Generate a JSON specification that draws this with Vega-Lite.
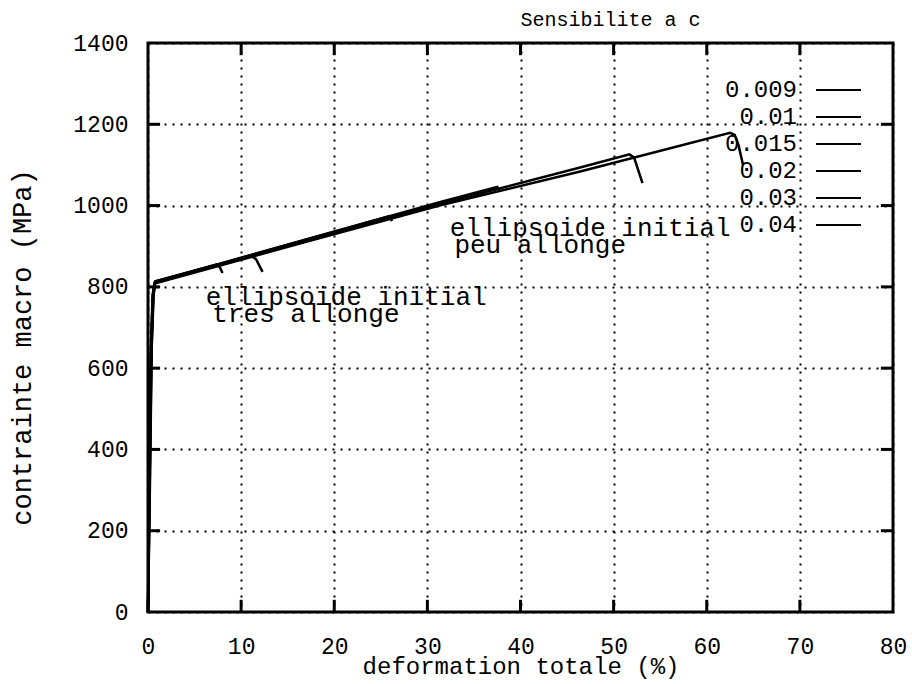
{
  "$schema": "https://vega.github.io/schema/vega-lite/v6.json",
  "width": 745,
  "height": 569,
  "autosize": "none",
  "padding": {"left": 148, "top": 43, "right": 19, "bottom": 72},
  "background": "white",
  "title": {"text": "Sensibilite a c", "font": "Liberation Mono", "fontSize": 20, "fontWeight": "normal", "color": "black", "anchor": "middle", "dx": 90, "offset": 2},
  "config": {
    "view": {"stroke": "black", "strokeWidth": 3},
    "axis": {"labelFont": "Liberation Mono", "titleFont": "Liberation Mono", "labelColor": "black", "titleColor": "black", "domain": false, "ticks": false, "gridColor": "black", "gridDash": [2, 6], "gridWidth": 2, "gridOpacity": 1}
  },
  "datasets": {
    "curves": [
      {"c": "0.009", "x": 0, "y": 0}, {"c": "0.009", "x": 0.1, "y": 300}, {"c": "0.009", "x": 0.3, "y": 650}, {"c": "0.009", "x": 0.5, "y": 780}, {"c": "0.009", "x": 0.7, "y": 808},
      {"c": "0.009", "x": 16.2, "y": 906}, {"c": "0.009", "x": 31.3, "y": 1000}, {"c": "0.009", "x": 46.3, "y": 1083}, {"c": "0.009", "x": 62.5, "y": 1179}, {"c": "0.009", "x": 63.0, "y": 1174}, {"c": "0.009", "x": 63.4, "y": 1150}, {"c": "0.009", "x": 63.9, "y": 1100},
      {"c": "0.01", "x": 0, "y": 0}, {"c": "0.01", "x": 0.12, "y": 300}, {"c": "0.01", "x": 0.32, "y": 650}, {"c": "0.01", "x": 0.52, "y": 780}, {"c": "0.01", "x": 0.72, "y": 810},
      {"c": "0.01", "x": 16.2, "y": 909}, {"c": "0.01", "x": 31.3, "y": 1004}, {"c": "0.01", "x": 46.3, "y": 1093}, {"c": "0.01", "x": 51.7, "y": 1126}, {"c": "0.01", "x": 52.2, "y": 1118}, {"c": "0.01", "x": 53.1, "y": 1055},
      {"c": "0.015", "x": 0, "y": 0}, {"c": "0.015", "x": 0.14, "y": 300}, {"c": "0.015", "x": 0.34, "y": 650}, {"c": "0.015", "x": 0.54, "y": 780}, {"c": "0.015", "x": 0.74, "y": 811},
      {"c": "0.015", "x": 16.2, "y": 911}, {"c": "0.015", "x": 31.3, "y": 1008}, {"c": "0.015", "x": 37.5, "y": 1046}, {"c": "0.015", "x": 37.8, "y": 1036},
      {"c": "0.02", "x": 0, "y": 0}, {"c": "0.02", "x": 0.16, "y": 300}, {"c": "0.02", "x": 0.36, "y": 650}, {"c": "0.02", "x": 0.56, "y": 780}, {"c": "0.02", "x": 0.76, "y": 812},
      {"c": "0.02", "x": 16.2, "y": 912}, {"c": "0.02", "x": 25.9, "y": 974}, {"c": "0.02", "x": 26.2, "y": 962},
      {"c": "0.03", "x": 0, "y": 0}, {"c": "0.03", "x": 0.18, "y": 300}, {"c": "0.03", "x": 0.38, "y": 650}, {"c": "0.03", "x": 0.58, "y": 780}, {"c": "0.03", "x": 0.78, "y": 813},
      {"c": "0.03", "x": 11.1, "y": 876}, {"c": "0.03", "x": 11.6, "y": 868}, {"c": "0.03", "x": 12.3, "y": 837},
      {"c": "0.04", "x": 0, "y": 0}, {"c": "0.04", "x": 0.2, "y": 300}, {"c": "0.04", "x": 0.4, "y": 650}, {"c": "0.04", "x": 0.6, "y": 780}, {"c": "0.04", "x": 0.8, "y": 814},
      {"c": "0.04", "x": 7.4, "y": 855}, {"c": "0.04", "x": 7.7, "y": 849}, {"c": "0.04", "x": 8.0, "y": 834}
    ],
    "notes": [
      {"x": 6.2, "y": 775, "label": "ellipsoide initial"},
      {"x": 6.9, "y": 733, "label": "tres allonge"},
      {"x": 32.4, "y": 945, "label": "ellipsoide initial"},
      {"x": 32.9, "y": 903, "label": "peu allonge"}
    ],
    "xticks": [{"v": 10}, {"v": 20}, {"v": 30}, {"v": 40}, {"v": 50}, {"v": 60}, {"v": 70}],
    "yticks": [{"v": 200}, {"v": 400}, {"v": 600}, {"v": 800}, {"v": 1000}, {"v": 1200}]
  },
  "layer": [
    {
      "data": {"name": "curves"},
      "mark": {"type": "line", "strokeWidth": 2.5},
      "encoding": {
        "x": {"field": "x", "type": "quantitative", "scale": {"domain": [0, 80], "nice": false, "zero": false},
              "axis": {"values": [0, 10, 20, 30, 40, 50, 60, 70, 80], "format": "d", "orient": "bottom", "title": "deformation totale (%)", "labelFontSize": 23, "titleFontSize": 24, "titleFontWeight": "normal", "labelPadding": 23, "titlePadding": -4, "grid": true, "labelFlush": false}},
        "y": {"field": "y", "type": "quantitative", "scale": {"domain": [0, 1400], "nice": false},
              "axis": {"values": [0, 200, 400, 600, 800, 1000, 1200, 1400], "format": "d", "orient": "left", "title": "contrainte macro (MPa)", "labelFontSize": 23, "titleFontSize": 27, "titleFontWeight": "normal", "labelPadding": 20, "titleX": -126, "titleY": 304, "titleAngle": -90, "titleAlign": "center", "titleBaseline": "middle", "grid": true}},
        "color": {"field": "c", "type": "nominal", "sort": ["0.009", "0.01", "0.015", "0.02", "0.03", "0.04"],
                  "scale": {"range": ["black", "black", "black", "black", "black", "black"]},
                  "legend": {"title": null, "orient": "none", "legendX": 677.5, "legendY": 34, "symbolType": "M-1.875,0H1.875", "symbolSize": 576, "symbolStrokeWidth": 2, "symbolFillColor": "transparent", "labelAlign": "right", "labelOffset": -54.5, "labelFont": "Liberation Mono", "labelFontSize": 24, "labelColor": "black", "rowPadding": 2, "labelLimit": 200}},
        "detail": {"field": "c"}
      }
    },
    {
      "data": {"name": "notes"},
      "mark": {"type": "text", "align": "left", "baseline": "middle", "font": "Liberation Mono", "fontSize": 26, "color": "black"},
      "encoding": {
        "x": {"field": "x", "type": "quantitative"},
        "y": {"field": "y", "type": "quantitative"},
        "text": {"field": "label"}
      }
    },
    {
      "data": {"name": "xticks"},
      "mark": {"type": "rule", "strokeWidth": 3, "color": "black"},
      "encoding": {"x": {"field": "v", "type": "quantitative"}, "y": {"datum": 0}, "y2": {"datum": 30}}
    },
    {
      "data": {"name": "xticks"},
      "mark": {"type": "rule", "strokeWidth": 3, "color": "black"},
      "encoding": {"x": {"field": "v", "type": "quantitative"}, "y": {"datum": 1400}, "y2": {"datum": 1370}}
    },
    {
      "data": {"name": "yticks"},
      "mark": {"type": "rule", "strokeWidth": 3, "color": "black"},
      "encoding": {"y": {"field": "v", "type": "quantitative"}, "x": {"datum": 0}, "x2": {"datum": 1.3}}
    },
    {
      "data": {"name": "yticks"},
      "mark": {"type": "rule", "strokeWidth": 3, "color": "black"},
      "encoding": {"y": {"field": "v", "type": "quantitative"}, "x": {"datum": 80}, "x2": {"datum": 78.7}}
    }
  ]
}
